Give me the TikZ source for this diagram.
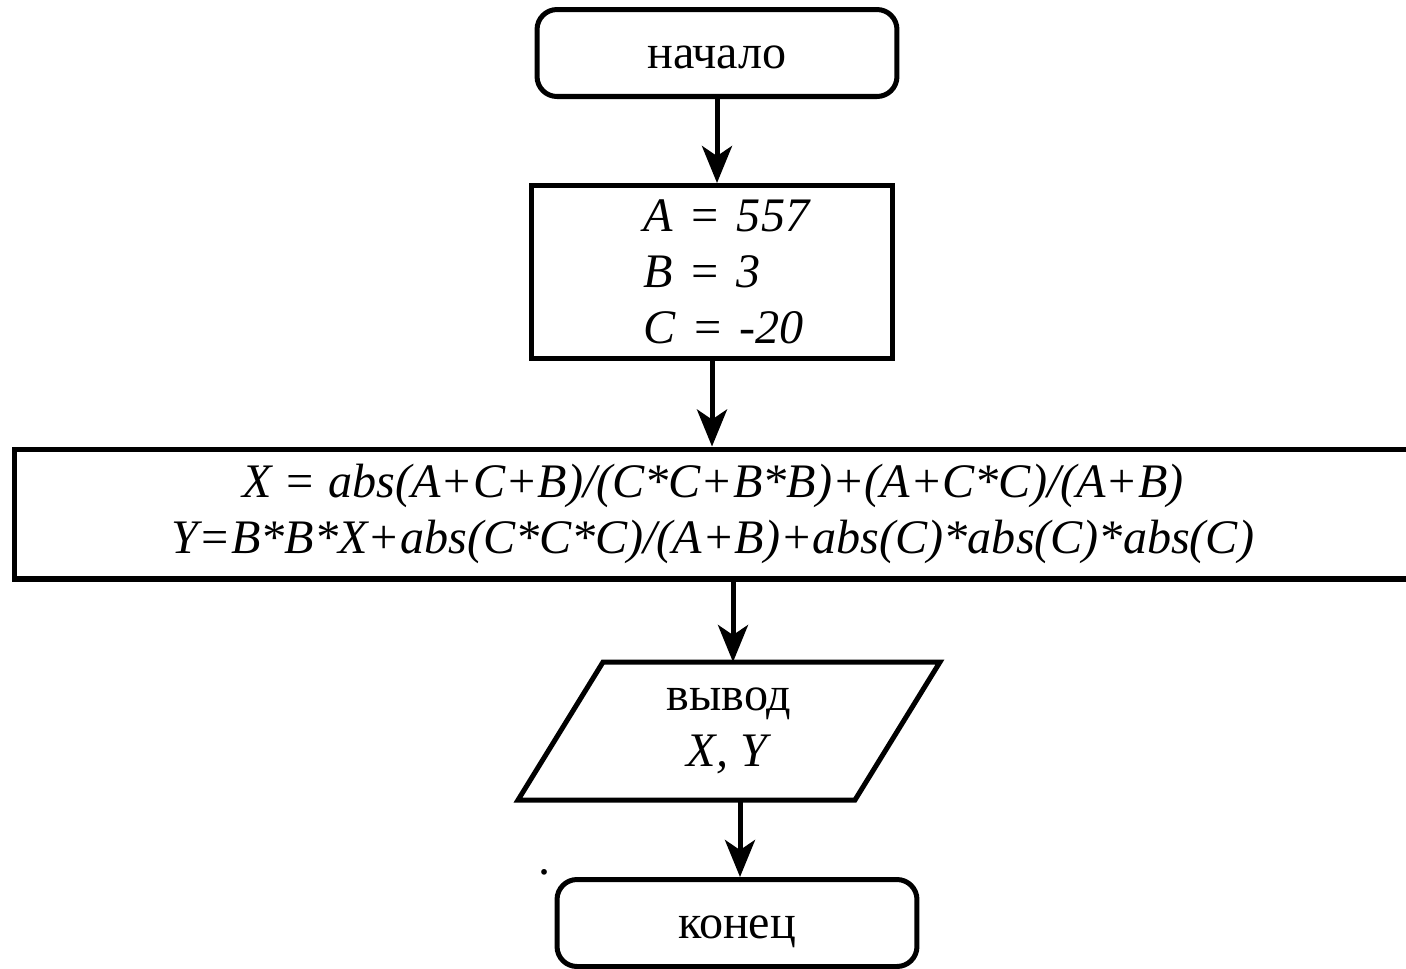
\documentclass[tikz,border=0pt]{standalone}
\usepackage{fontspec}
\setmainfont{Liberation Serif}
\usetikzlibrary{arrows.meta}

\begin{document}
\begin{tikzpicture}[x=0.02cm,y=-0.02cm,line width=2.85pt,
    every node/.style={font=\fontsize{27.4}{32}\selectfont},
    term/.style={draw,rounded corners=0.4cm,minimum width=7.2cm,minimum height=1.74cm,
      text height=0.62cm,text depth=0cm},
    proc/.style={draw,align=left},
    io/.style={outer sep=0pt,minimum width=8.44cm,minimum height=2.76cm,align=center},
    flow/.style={-{Stealth[length=0.74cm,width=0.6cm,inset=0.2cm]}}]
  \useasboundingbox (0,0) rectangle (1406,968);
  % blocks
  \node[term] (start) at (717,53) {начало};
  \node[proc,text width=2.76cm,minimum width=7.24cm,minimum height=3.46cm] (init) at (712,272)
    {\itshape\mbox{A = 557}\\\mbox{B = 3}\\\mbox{C = -20}};
  \node[proc,align=center,minimum width=27.96cm,minimum height=2.6cm] (calc) at (713,514)
    {\itshape X = abs(A+C+B)/(C*C+B*B)+(A+C*C)/(A+B)\\
     \itshape Y=B*B*X+abs(C*C*C)/(A+B)+abs(C)*abs(C)*abs(C)};
  \node[io] (out) at (729,731) {вывод\\\textit{X, Y}};
  \draw ([xshift=1.7cm]out.north west) -- (out.north east)
    -- ([xshift=-1.7cm]out.south east) -- (out.south west) -- cycle;
  \node[term] (stop) at (737,923) {конец};
  \node (dot) at (545,872) {.};
  % arrows
  \draw[flow] (start.south) -- (start.south |- init.north);
  \draw[flow] (init.south) -- (init.south |- calc.north);
  \draw[flow] (733,0 |- calc.south) -- (733,0 |- out.north);
  \draw[flow] (740,0 |- out.south) -- (740,0 |- stop.north);
\end{tikzpicture}
\end{document}
